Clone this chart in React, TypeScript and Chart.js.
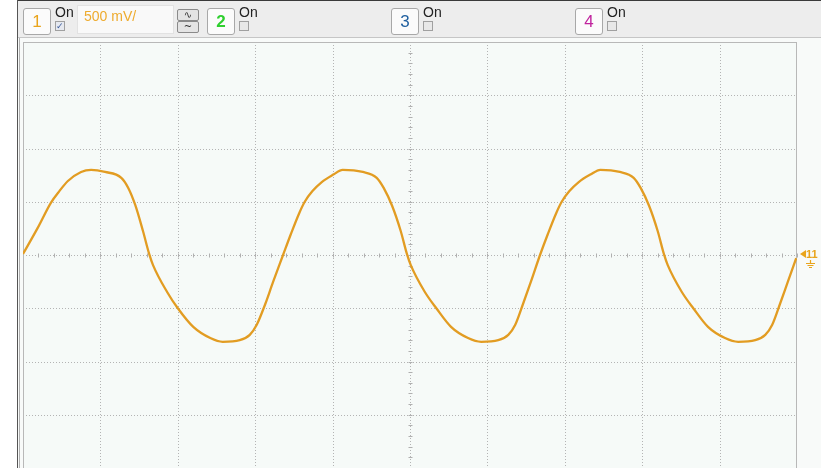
import React, { useEffect, useRef } from "react";
import { Chart, registerables } from "chart.js";
Chart.register(...registerables);

// time in divisions (10 div across), channel 1 in divisions (500 mV/div)
const timeDiv = [
  0, 0.19, 0.36, 0.47, 0.58, 0.75, 0.88, 1.06, 1.27, 1.36, 1.45, 1.55, 1.63, 1.68, 1.86, 2.0, 2.2, 2.42, 2.58, 2.8, 2.93, 3.02, 3.13, 3.23, 3.36,
  3.46, 3.57, 3.64, 3.74, 3.86, 4.01, 4.13, 4.39, 4.57, 4.66, 4.77, 4.88, 4.96, 5.01, 5.19, 5.34, 5.53, 5.75, 5.92, 6.14, 6.27, 6.36, 6.46, 6.56, 6.68,
  6.78, 6.89, 6.96, 7.06, 7.18, 7.33, 7.46, 7.71, 7.89, 7.98, 8.09, 8.2, 8.28, 8.33, 8.51, 8.66, 8.85, 9.07, 9.24, 9.46, 9.59, 9.68, 9.78, 9.88, 9.99,
];
const ch1Div = [
  0.02, 0.51, 0.98, 1.2, 1.39, 1.56, 1.6, 1.56, 1.45, 1.26, 0.94, 0.45, 0.02, -0.19, -0.69, -1.0, -1.35, -1.56, -1.63, -1.6, -1.5, -1.31, -0.92, -0.51, 0.0,
  0.39, 0.79, 1.0, 1.2, 1.37, 1.51, 1.6, 1.56, 1.45, 1.26, 0.92, 0.45, 0.02, -0.19, -0.69, -1.0, -1.35, -1.56, -1.63, -1.6, -1.5, -1.31, -0.92, -0.51, 0.0,
  0.39, 0.79, 1.0, 1.2, 1.37, 1.51, 1.6, 1.56, 1.45, 1.26, 0.92, 0.45, 0.02, -0.19, -0.69, -1.0, -1.35, -1.56, -1.63, -1.6, -1.5, -1.31, -0.92, -0.51, -0.06,
];
const channelNames = ["1", "2", "3", "4"];
const channelColors = ["#e9a41c", "#2fcf2f", "#1f5f9f", "#c0249e"];
const channelBoxX = [23, 207, 391, 575];
const ch1Scale = "500 mV/";
const onLabel = "On";

const TRACE = "#e29c22";

const scopePlugin = {
  id: "scope",
  beforeDraw(chart: any) {
    const { ctx, chartArea: a, scales } = chart;
    const xs = scales.x;
    const ys = scales.y;
    ctx.save();
    ctx.fillStyle = "#ffffff";
    ctx.fillRect(0, 0, chart.width, chart.height);
    ctx.fillStyle = "#f8faf9";
    ctx.fillRect(18, 0, chart.width - 18, chart.height);
    ctx.fillStyle = "#f6faf8";
    ctx.fillRect(a.left, a.top, a.right - a.left, a.bottom - a.top);
    ctx.strokeStyle = "#555";
    ctx.lineWidth = 1;
    ctx.beginPath();
    ctx.moveTo(17.5, 0);
    ctx.lineTo(17.5, chart.height);
    ctx.stroke();
    ctx.strokeStyle = "#b0b0b0";
    ctx.beginPath();
    ctx.moveTo(19.5, 0);
    ctx.lineTo(19.5, chart.height);
    ctx.stroke();
    // grid
    ctx.strokeStyle = "#b4b4b4";
    ctx.setLineDash([1, 2]);
    for (let i = 1; i < 10; i++) {
      const px = Math.round(xs.getPixelForValue(i)) + 0.5;
      ctx.beginPath();
      ctx.moveTo(px, a.top);
      ctx.lineTo(px, a.bottom);
      ctx.stroke();
    }
    for (let j = -3; j <= 3; j++) {
      const py = Math.round(ys.getPixelForValue(j)) + 0.5;
      ctx.beginPath();
      ctx.moveTo(a.left, py);
      ctx.lineTo(a.right, py);
      ctx.stroke();
    }
    ctx.setLineDash([]);
    // center minor ticks
    ctx.strokeStyle = "#b0b0b0";
    const cy = Math.round(ys.getPixelForValue(0)) + 0.5;
    const cx = Math.round(xs.getPixelForValue(5)) + 0.5;
    for (let k = 0; k <= 50; k++) {
      const px = Math.round(xs.getPixelForValue(k * 0.2)) + 0.5;
      ctx.beginPath();
      ctx.moveTo(px, cy - 2);
      ctx.lineTo(px, cy + 2);
      ctx.stroke();
    }
    for (let k = 0; k <= 40; k++) {
      const py = Math.round(ys.getPixelForValue(-4 + k * 0.2)) + 0.5;
      ctx.beginPath();
      ctx.moveTo(cx - 2, py);
      ctx.lineTo(cx + 2, py);
      ctx.stroke();
    }
    // border
    ctx.strokeStyle = "#b8b8b8";
    ctx.strokeRect(a.left + 0.5, a.top + 0.5, a.right - a.left - 1, a.bottom - a.top + 2);
    // ground marker
    const gx = a.right + 3;
    const gy = ys.getPixelForValue(0) - 1;
    ctx.fillStyle = "#e9a41c";
    ctx.strokeStyle = "#e9a41c";
    ctx.beginPath();
    ctx.moveTo(gx, gy);
    ctx.lineTo(gx + 6, gy - 4);
    ctx.lineTo(gx + 6, gy + 4);
    ctx.closePath();
    ctx.fill();
    ctx.font = "bold 11px 'Liberation Sans', Arial, sans-serif";
    ctx.textBaseline = "middle";
    ctx.fillText(channelNames[0] + channelNames[0], gx + 6, gy + 1);
    ctx.lineWidth = 1.2;
    ctx.beginPath();
    ctx.moveTo(gx + 10.5, gy + 6);
    ctx.lineTo(gx + 10.5, gy + 9);
    ctx.moveTo(gx + 6, gy + 9.5);
    ctx.lineTo(gx + 15, gy + 9.5);
    ctx.moveTo(gx + 7.5, gy + 11.5);
    ctx.lineTo(gx + 13.5, gy + 11.5);
    ctx.moveTo(gx + 9, gy + 13.5);
    ctx.lineTo(gx + 12, gy + 13.5);
    ctx.stroke();
    ctx.restore();
  },
};

const font = "'Liberation Sans', Arial, sans-serif";

function CheckBox({ checked }: { checked: boolean }) {
  return (
    <div
      style={{
        position: "absolute",
        width: 8,
        height: 8,
        border: "1px solid #a0a0a0",
        background: checked ? "#e6e9f0" : "#e8e8e8",
        fontSize: 9,
        lineHeight: "8px",
        color: "#3a5a9a",
        textAlign: "center",
        fontFamily: font,
      }}
    >
      {checked ? "✓" : ""}
    </div>
  );
}

function Channel({ idx }: { idx: number }) {
  const x = channelBoxX[idx];
  return (
    <>
      <div
        style={{
          position: "absolute",
          left: x,
          top: 8,
          width: 26,
          height: 25,
          border: "1px solid #a8a8a8",
          borderRadius: 3,
          background: "#fbfbfb",
          color: channelColors[idx],
          fontSize: 17,
          fontWeight: idx === 1 ? 700 : 400,
          lineHeight: "26px",
          textAlign: "center",
          fontFamily: font,
        }}
      >
        {channelNames[idx]}
      </div>
      <div
        style={{
          position: "absolute",
          left: x + 32,
          top: 5,
          fontSize: 14,
          lineHeight: "14px",
          color: "#222",
          fontFamily: font,
        }}
      >
        {onLabel}
      </div>
      <div style={{ position: "absolute", left: x + 32, top: 21 }}>
        <CheckBox checked={idx === 0} />
      </div>
    </>
  );
}

export default function App() {
  const ref = useRef<HTMLCanvasElement | null>(null);
  useEffect(() => {
    document.body.style.margin = "0";
    const canvas = ref.current!;
    const chart = new Chart(canvas, {
      type: "line",
      data: {
        datasets: [
          {
            data: timeDiv.map((t, i) => ({ x: t, y: ch1Div[i] })),
            borderColor: TRACE,
            borderWidth: 2.3,
            pointRadius: 0,
            cubicInterpolationMode: "monotone",
            fill: false,
          },
        ],
      },
      options: {
        animation: false,
        responsive: false,
        devicePixelRatio: 1,
        layout: { padding: { left: 23, top: 42, right: 24, bottom: 0 } },
        scales: {
          x: { type: "linear", min: 0, max: 10, display: false },
          y: { type: "linear", min: -4, max: 4, display: false },
        },
        plugins: { legend: { display: false }, tooltip: { enabled: false } },
      },
      plugins: [scopePlugin],
    });
    return () => chart.destroy();
  }, []);

  return (
    <div style={{ position: "relative", width: 821, height: 468, overflow: "hidden", background: "#fff" }}>
      <canvas ref={ref} width={821} height={468} style={{ position: "absolute", left: 0, top: 0 }} />
      <div
        style={{
          position: "absolute",
          left: 18,
          top: 0,
          width: 803,
          height: 36,
          background: "#ededed",
          borderTop: "1px solid #3a3a3a",
          borderBottom: "1px solid #c6c6c6",
        }}
      />
      <div style={{ position: "absolute", left: 17, top: 0, width: 1, height: 40, background: "#555" }} />
      <div
        style={{
          position: "absolute",
          left: 77,
          top: 5,
          width: 97,
          height: 29,
          background: "#f9f9f9",
          border: "1px solid #e2e2e2",
          color: "#eeab2e",
          fontSize: 14,
          lineHeight: "20px",
          paddingLeft: 6,
          boxSizing: "border-box",
          fontFamily: font,
        }}
      >
        {ch1Scale}
      </div>
      {["∿", "~"].map((g, i) => (
        <div
          key={i}
          style={{
            position: "absolute",
            left: 177,
            top: 9 + i * 12,
            width: 20,
            height: 10,
            border: "1px solid #8a8a8a",
            borderRadius: 2,
            background: "#e4e4e4",
            fontSize: 10,
            lineHeight: "9px",
            textAlign: "center",
            color: "#333",
            fontFamily: "'DejaVu Sans', sans-serif",
          }}
        >
          {g}
        </div>
      ))}
      {[0, 1, 2, 3].map((i) => (
        <Channel key={i} idx={i} />
      ))}
    </div>
  );
}
